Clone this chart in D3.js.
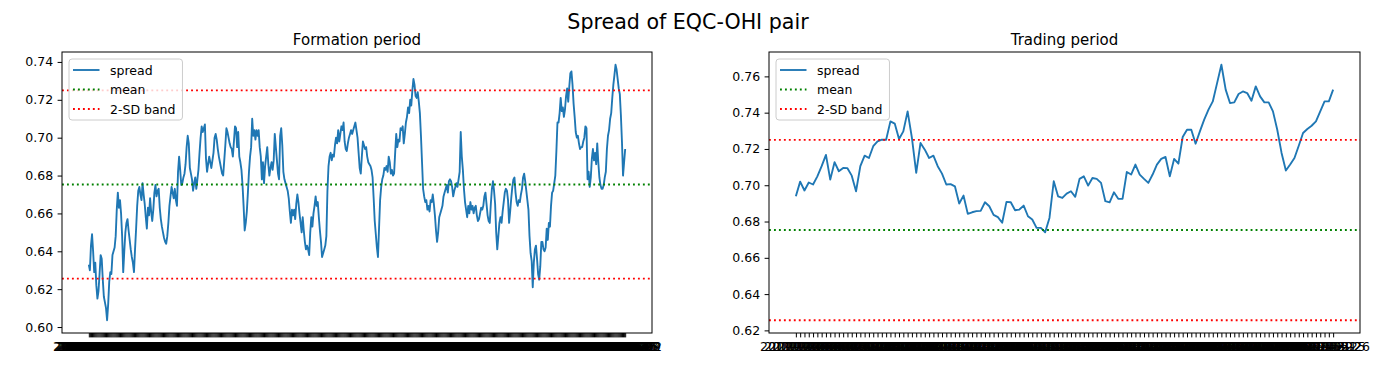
<!DOCTYPE html>
<html><head><meta charset="utf-8">
<script src="https://cdn.jsdelivr.net/npm/d3@7"></script>
<style>
body{margin:0;background:#fff}
svg{display:block}
text{font-family:"DejaVu Sans",sans-serif}
</style>
</head><body>
<svg id="c" width="1400" height="378"></svg>
<script>
// ---------------- data ----------------
const figureTitle = "Spread of EQC-OHI pair";
const panelTitles = ["Formation period", "Trading period"];
const legendLabels = ["spread", "mean", "2-SD band"];

const meanValue = 0.6753;
const bandUpper = 0.7250;
const bandLower = 0.6256;

const formationYTicks = [0.60, 0.62, 0.64, 0.66, 0.68, 0.70, 0.72, 0.74];
const tradingYTicks = [0.62, 0.64, 0.66, 0.68, 0.70, 0.72, 0.74, 0.76];

const formationStart = "2018-01-02";
const tradingStart = "2019-12-03";

const formationSpread = [
0.633,0.630,0.643,0.649,0.640,0.629,0.634,0.622,0.615,0.619,
0.628,0.638,0.636,0.625,0.616,0.613,0.610,0.6036,0.612,0.624,
0.629,0.628,0.638,0.640,0.642,0.648,0.662,0.671,0.663,0.667,
0.660,0.648,0.629,0.640,0.650,0.655,0.657,0.651,0.646,0.641,
0.637,0.634,0.629,0.641,0.652,0.664,0.672,0.674,0.670,0.667,
0.676,0.670,0.665,0.658,0.652,0.663,0.659,0.668,0.661,0.656,
0.662,0.671,0.675,0.669,0.672,0.673,0.663,0.657,0.653,0.650,
0.647,0.645,0.644,0.648,0.655,0.664,0.669,0.674,0.671,0.668,
0.673,0.667,0.664,0.682,0.690,0.683,0.675,0.676,0.679,0.681,
0.686,0.695,0.701,0.697,0.684,0.681,0.678,0.672,0.676,0.679,
0.673,0.678,0.683,0.692,0.700,0.706,0.703,0.705,0.707,0.689,
0.682,0.686,0.690,0.687,0.684,0.688,0.692,0.700,0.702,0.699,
0.694,0.690,0.687,0.684,0.681,0.680,0.688,0.696,0.705,0.703,
0.700,0.697,0.695,0.694,0.690,0.698,0.706,
0.705,0.695,0.703,0.690,0.687,0.683,0.675,0.664,0.651,0.655,
0.661,0.671,0.682,0.690,0.695,0.710,0.701,0.704,0.699,0.704,
0.701,0.704,0.695,0.690,0.678,0.687,0.676,0.685,0.690,0.695,
0.686,0.680,0.684,0.687,0.683,0.688,0.702,0.695,0.688,0.681,
0.678,0.701,0.705,0.696,0.682,0.678,0.676,0.674,0.672,0.668,
0.661,0.655,0.662,0.659,0.662,0.657,0.665,0.670,0.666,0.660,
0.655,0.650,0.658,0.651,0.645,0.641,0.643,0.641,0.638,0.650,
0.658,0.653,0.660,0.664,0.669,0.664,0.666,0.658,0.651,0.645,
0.637,0.639,0.641,0.643,0.648,0.672,0.685,0.690,0.692,0.688,
0.691,0.690,0.696,0.700,0.697,0.704,0.698,0.702,0.706,0.704,
0.708,0.698,0.694,0.693,0.697,0.700,0.702,0.704,0.702,0.704,
0.706,0.708,0.704,0.700,0.692,0.684,0.681,0.690,0.698,0.696,
0.694,0.695,0.690,0.687,0.686,0.685,0.683,0.679,0.668,0.656,
0.649,0.642,0.637,0.652,0.667,0.674,0.678,
0.680,0.684,0.683,0.685,0.682,0.690,0.687,0.681,0.683,0.680,
0.681,0.692,0.702,0.695,0.699,0.698,0.705,0.704,0.706,0.697,
0.702,0.708,0.711,0.716,0.713,0.720,0.717,0.725,0.731,0.728,
0.722,0.721,0.724,0.719,0.713,0.701,0.687,0.673,0.669,0.666,
0.667,0.662,0.664,0.661,0.667,0.666,0.670,0.665,0.659,0.651,
0.645,0.650,0.658,0.660,0.662,0.664,0.669,0.671,0.673,0.675,
0.671,0.677,0.678,0.677,0.674,0.669,0.672,0.674,0.676,0.674,
0.678,0.682,0.703,0.690,0.683,0.673,0.666,0.662,0.658,0.664,
0.660,0.666,0.662,0.664,0.660,0.663,0.664,0.659,0.656,0.657,
0.660,0.663,0.662,0.664,0.669,0.671,0.665,0.659,0.656,0.655,
0.665,0.673,0.677,0.672,0.665,0.650,0.641,0.648,0.655,0.658,
0.655,0.661,0.666,0.671,0.673,0.672,0.667,0.655,0.661,0.668,
0.674,0.678,0.679,0.671,0.666,0.664,0.667,0.666,0.670,0.673,
0.679,0.681,0.677,0.672,0.667,0.662,0.648,0.639,
0.635,0.621,0.634,0.641,0.643,0.636,0.628,0.625,0.632,0.645,
0.645,0.641,0.640,0.642,0.652,0.646,0.655,0.653,0.664,0.671,
0.672,0.676,0.680,0.693,0.708,0.708,0.713,0.721,0.714,0.716,
0.711,0.715,0.722,0.726,0.719,0.727,0.734,0.735,0.728,0.718,
0.711,0.703,0.700,0.701,0.697,0.694,0.695,0.695,0.698,0.700,
0.706,0.705,0.678,0.682,0.674,0.679,0.689,0.694,0.688,0.692,
0.686,0.697,0.687,0.679,0.675,0.673,0.673,0.675,0.679,0.682,
0.694,0.701,0.704,0.710,0.713,0.721,0.728,0.733,0.7385,0.736,
0.731,0.726,0.723,0.712,0.698,0.680,0.687,0.694
];

const tradingSpread = [
0.6939,0.7020,0.6971,0.7015,0.7004,0.7049,0.7105,0.7167,0.7031,0.7127,
0.7077,0.7095,0.7094,0.7053,0.6967,0.7105,0.7163,0.7150,0.7215,0.7242,
0.7251,0.7251,0.7352,0.7340,0.7255,0.7297,0.7407,0.7261,0.7068,0.7233,
0.7196,0.7150,0.7163,0.7105,0.7064,0.7004,0.7006,0.6994,0.6899,0.6943,
0.6842,0.6851,0.6857,0.6859,0.6906,0.6884,0.6837,0.6824,0.6793,0.6908,
0.6906,0.6862,0.6866,0.6888,0.6829,0.6811,0.6765,0.6765,0.6741,0.6820,
0.7022,0.6939,0.6930,0.6954,0.6967,0.6936,0.7035,0.7049,0.6998,0.7040,
0.7035,0.7013,0.6912,0.6906,0.6961,0.6925,0.6925,0.7073,0.7059,0.7114,
0.7059,0.7035,0.7013,0.7059,0.7114,0.7145,0.7156,0.7049,0.7145,0.7119,
0.7266,0.7306,0.7306,0.7229,0.7297,0.7362,0.7417,0.7462,0.7563,0.7664,
0.7527,0.7453,0.7457,0.7503,0.7517,0.7508,0.7466,0.7545,0.7490,0.7457,
0.7457,0.7407,0.7306,0.7178,0.7081,0.7114,0.7150,0.7218,0.7288,0.7310,
0.7328,0.7352,0.7407,0.7462,0.7462,0.7527
];

// ---------------- helpers ----------------
const fmtDate = d3.utcFormat("%Y-%m-%d");
function weekdayLabels(start, n) {
  const out = [];
  let d = d3.utcParse("%Y-%m-%d")(start);
  while (out.length < n) {
    const wd = d.getUTCDay();
    if (wd !== 0 && wd !== 6) out.push(fmtDate(d));
    d = d3.utcDay.offset(d, 1);
  }
  return out;
}
const formationDates = weekdayLabels(formationStart, formationSpread.length);
const tradingDates = weekdayLabels(tradingStart, tradingSpread.length);

// ---------------- drawing ----------------
const svg = d3.select("#c");
const BLUE = "#1f77b4", GREEN = "#008000", RED = "#ff0000";
const LW = 1.875, DOT = "1.875,3.09";
const FS = 12.5;
const plotTop = 52, plotBottom = 333;

svg.append("text")
  .attr("x", 688).attr("y", 29)
  .attr("text-anchor", "middle")
  .attr("font-size", 20.6)
  .attr("fill", "#000")
  .text(figureTitle);

const panels = [
  {title: panelTitles[0], data: formationSpread, labels: formationDates, yticks: formationYTicks, x0: 62, x1: 652},
  {title: panelTitles[1], data: tradingSpread, labels: tradingDates, yticks: tradingYTicks, x0: 769, x1: 1360}
];

panels.forEach((p, k) => {
  const n = p.data.length;
  const x = d3.scaleLinear().domain([-(n - 1) * 0.05, (n - 1) * 1.05]).range([p.x0, p.x1]);
  const lo = Math.min(d3.min(p.data), bandLower);
  const hi = Math.max(d3.max(p.data), bandUpper);
  const pad = (hi - lo) * 0.05;
  const y = d3.scaleLinear().domain([lo - pad, hi + pad]).range([plotBottom, plotTop]);

  const g = svg.append("g");
  const clipId = "clip" + k;
  g.append("clipPath").attr("id", clipId)
    .append("rect").attr("x", p.x0).attr("y", plotTop).attr("width", p.x1 - p.x0).attr("height", plotBottom - plotTop);

  const plot = g.append("g").attr("clip-path", `url(#${clipId})`);

  const line = d3.line().x((d, i) => x(i)).y(d => y(d));
  plot.append("path").datum(p.data)
    .attr("d", line)
    .attr("fill", "none")
    .attr("stroke", BLUE)
    .attr("stroke-width", LW)
    .attr("stroke-linejoin", "round");

  const hlines = [{v: meanValue, c: GREEN}, {v: bandUpper, c: RED}, {v: bandLower, c: RED}];
  plot.selectAll("line.h").data(hlines).enter().append("line")
    .attr("class", "h")
    .attr("x1", p.x0).attr("x2", p.x1)
    .attr("y1", d => y(d.v)).attr("y2", d => y(d.v))
    .attr("stroke", d => d.c)
    .attr("stroke-width", LW)
    .attr("stroke-dasharray", DOT);

  // axes
  const ya = g.append("g").attr("transform", `translate(${p.x0},0)`)
    .call(d3.axisLeft(y).tickValues(p.yticks).tickFormat(d3.format(".2f")).tickSize(4.4).tickPadding(4.4));
  const xa = g.append("g").attr("transform", `translate(0,${plotBottom})`)
    .call(d3.axisBottom(x).tickValues(d3.range(n)).tickFormat(i => p.labels[i]).tickSize(4.4).tickPadding(4.4));
  [ya, xa].forEach(a => {
    a.select(".domain").remove();
    a.attr("font-size", FS).attr("font-family", "'DejaVu Sans', sans-serif");
    a.selectAll("line").attr("stroke", "#000").attr("stroke-width", 1);
    a.selectAll("text").attr("fill", "#000");
  });

  // spines
  g.append("rect")
    .attr("x", p.x0).attr("y", plotTop).attr("width", p.x1 - p.x0).attr("height", plotBottom - plotTop)
    .attr("fill", "none").attr("stroke", "#000").attr("stroke-width", 1);

  // title
  g.append("text")
    .attr("x", (p.x0 + p.x1) / 2).attr("y", 45)
    .attr("text-anchor", "middle")
    .attr("font-size", 15)
    .attr("fill", "#000")
    .text(p.title);

  // legend
  const lx = p.x0 + 7, ly = 59;
  const leg = g.append("g");
  const box = leg.append("rect")
    .attr("x", lx).attr("y", ly).attr("height", 61).attr("rx", 3)
    .attr("fill", "#fff").attr("fill-opacity", 0.8)
    .attr("stroke", "#cccccc").attr("stroke-width", 1);
  const items = [
    {label: legendLabels[0], c: BLUE, dash: null},
    {label: legendLabels[1], c: GREEN, dash: DOT},
    {label: legendLabels[2], c: RED, dash: DOT}
  ];
  let maxW = 0;
  items.forEach((it, j) => {
    const cy = ly + 11 + j * 19.5;
    const ln = leg.append("line")
      .attr("x1", lx + 4).attr("x2", lx + 30.5)
      .attr("y1", cy).attr("y2", cy)
      .attr("stroke", it.c).attr("stroke-width", LW);
    if (it.dash) ln.attr("stroke-dasharray", it.dash);
    const t = leg.append("text")
      .attr("x", lx + 41).attr("y", cy)
      .attr("dominant-baseline", "central")
      .attr("font-size", FS).attr("fill", "#000")
      .text(it.label);
    maxW = Math.max(maxW, t.node().getComputedTextLength());
  });
  box.attr("width", 41 + maxW + 7);
});
</script>
</body></html>
